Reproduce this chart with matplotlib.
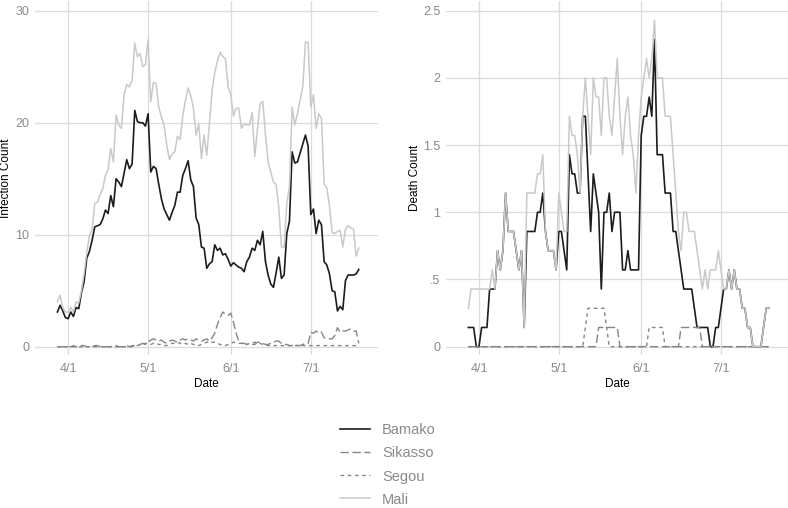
import matplotlib
matplotlib.use("Agg")
import matplotlib.pyplot as plt
import numpy as np
import pandas as pd

plt.rcParams['font.family'] = ['Liberation Sans', 'DejaVu Sans']

# ---------------- data ----------------
dates = pd.date_range("2020-03-28", "2020-07-19", freq="D")

bamako_inf = [3.1, 3.7, 3.2, 2.6, 2.5, 3.1, 2.7, 3.5, 3.4, 4.8,
              5.8, 7.9, 8.5, 9.5, 10.7, 10.8, 10.9, 11.4, 12.2, 11.9,
              13.5, 12.5, 15.0, 14.7, 14.3, 15.5, 16.7, 15.9, 16.3, 21.1,
              20.1, 20.0, 20.0, 19.7, 20.8, 15.6, 16.1, 15.9, 14.5, 13.2,
              12.3, 11.8, 11.3, 12.0, 12.6, 13.8, 13.8, 15.3, 15.9, 16.6,
              14.9, 14.3, 11.5, 10.9, 8.9, 8.8, 7.0, 7.4, 7.6, 9.1,
              8.6, 8.8, 8.2, 8.3, 7.8, 7.2, 7.5, 7.3, 7.1, 7.0,
              6.7, 7.6, 8.0, 8.8, 8.6, 9.5, 9.1, 10.3, 7.6, 6.4,
              5.6, 5.3, 6.6, 8.0, 6.1, 6.4, 10.1, 11.2, 17.4, 16.4,
              16.5, 17.3, 18.1, 18.9, 17.9, 11.8, 12.3, 10.1, 11.3, 10.9,
              7.6, 7.3, 6.5, 5.0, 4.9, 3.2, 3.6, 3.3, 5.9, 6.4,
              6.4, 6.4, 6.5, 6.9]

mali_inf = [4.0, 4.6, 3.5, 3.1, 3.1, 3.5, 3.1, 4.0, 3.9, 5.0,
            6.5, 8.4, 9.9, 10.5, 12.8, 12.9, 13.6, 14.1, 15.3, 15.8,
            17.7, 16.5, 20.7, 19.8, 19.5, 22.5, 23.4, 23.2, 23.8, 27.1,
            25.9, 26.2, 25.0, 25.2, 27.4, 21.9, 23.6, 23.5, 21.4, 20.5,
            19.8, 18.0, 16.7, 17.2, 17.4, 18.8, 18.5, 20.6, 22.0, 23.1,
            22.4, 21.3, 18.9, 19.9, 16.8, 18.9, 17.1, 19.9, 22.9, 24.5,
            25.5, 26.3, 25.9, 25.7, 23.2, 22.5, 20.6, 21.3, 21.3, 19.5,
            19.9, 19.8, 19.8, 20.9, 17.0, 19.4, 21.7, 21.9, 19.0, 16.5,
            15.6, 14.7, 14.5, 12.4, 8.9, 8.9, 12.8, 14.3, 21.4, 19.8,
            20.8, 22.0, 23.2, 27.2, 27.2, 21.4, 22.5, 19.5, 20.8, 20.4,
            14.5, 14.2, 12.6, 10.2, 10.1, 10.3, 10.4, 8.9, 10.5, 10.8,
            10.6, 10.5, 8.1, 8.8]

sikasso_inf = [0, 0, 0, 0, 0, 0, 0.1, 0, 0, 0.1,
               0.1, 0, 0, 0, 0.1, 0.1, 0, 0, 0, 0,
               0, 0.1, 0.1, 0, 0, 0, 0.1, 0, 0.1, 0.1,
               0.1, 0.2, 0.3, 0.2, 0.4, 0.6, 0.7, 0.6, 0.5, 0.6,
               0.4, 0.3, 0.5, 0.6, 0.5, 0.4, 0.6, 0.7, 0.6, 0.7,
               0.6, 0.5, 0.7, 0.6, 0.5, 0.6, 0.7, 0.5, 0.8, 1.2,
               2.0, 2.6, 3.1, 2.9, 2.8, 3.0, 2.2, 1.2, 0.5, 0.3,
               0.3, 0.2, 0.3, 0.2, 0.2, 0.4, 0.4, 0.3, 0.2, 0.2,
               0.3, 0.4, 0.5, 0.5, 0.3, 0.2, 0.2, 0.1, 0.1, 0.2,
               0.1, 0.1, 0.2, 0.3, 0.3, 1.3, 1.2, 1.4, 1.2, 1.3,
               0.8, 0.7, 0.7, 0.7, 1.0, 1.7, 1.3, 1.4, 1.4, 1.5,
               1.6, 1.4, 1.4, 0.3]

segou_inf = [0, 0, 0, 0, 0, 0, 0, 0, 0, 0,
             0, 0, 0, 0, 0, 0, 0, 0, 0, 0,
             0, 0, 0, 0, 0, 0, 0, 0, 0, 0.1,
             0.1, 0.2, 0.2, 0.3, 0.3, 0.2, 0.3, 0.3, 0.2, 0.2,
             0.1, 0.1, 0.2, 0.3, 0.3, 0.4, 0.3, 0.2, 0.3, 0.2,
             0.3, 0.2, 0.2, 0.1, 0.2, 0.3, 0.4, 0.5, 0.4, 0.4,
             0.3, 0.2, 0.1, 0.1, 0.2, 0.3, 0.4, 0.4, 0.3, 0.3,
             0.2, 0.2, 0.3, 0.3, 0.4, 0.4, 0.3, 0.2, 0.2, 0.1,
             0.1, 0.1, 0.1, 0.1, 0.1, 0.1, 0.1, 0.1, 0.1, 0.1,
             0.1, 0.2, 0.1, 0.1, 0.1, 0.1, 0.1, 0.1, 0.1, 0.1,
             0.1, 0.1, 0.1, 0.1, 0.1, 0.1, 0.1, 0.1, 0.1, 0.1,
             0.1, 0.1, 0.1, 0.1]

# deaths: 7-day averages, given in sevenths
bamako_death_7 = [1, 1, 1, 0, 0, 1, 1, 1, 3, 3,
                  3, 5, 4, 5, 8, 6, 6, 6, 5, 4,
                  5, 1, 6, 6, 6, 6, 7, 7, 8, 6,
                  5, 5, 5, 4, 6, 6, 5, 4, 10, 9,
                  9, 8, 8, 12, 12, 9, 6, 9, 8, 7,
                  3, 7, 7, 8, 6, 7, 7, 7, 4, 4,
                  5, 4, 4, 4, 4, 11, 12, 12, 13, 12,
                  16, 10, 10, 10, 8, 8, 8, 6, 6, 5,
                  4, 3, 3, 3, 3, 2, 1, 1, 1, 1,
                  1, 0, 0, 1, 1, 2, 3, 3, 4, 3,
                  4, 3, 3, 2, 2, 1, 1, 0, 0, 0,
                  0, 1, 2, 2]

mali_death_7 = [2, 3, 3, 3, 3, 3, 3, 3, 3, 4,
                3, 5, 4, 5, 8, 6, 6, 6, 5, 4,
                5, 1, 8, 8, 8, 8, 9, 9, 10, 6,
                5, 5, 5, 4, 8, 7, 6, 6, 12, 11,
                11, 10, 8, 12, 14, 12, 10, 14, 13, 13,
                11, 14, 14, 12, 11, 13, 15, 12, 10, 12,
                13, 11, 10, 8, 11, 13, 14, 15, 14, 15,
                17, 14, 14, 14, 12, 12, 12, 10, 8, 6,
                5, 7, 7, 6, 6, 6, 5, 4, 3, 4,
                3, 4, 4, 4, 5, 4, 3, 3, 4, 3,
                4, 3, 3, 2, 2, 1, 1, 0, 0, 0,
                0, 1, 2, 2]

sikasso_death_7 = [0] * 49 + [1] * 8 + [0] * 23 + [1] * 8 + [0] * 26
segou_death_7 = [0] * 44 + [1] + [2] * 7 + [1] + [0] * 15 + [1] * 6 + [0] * 40

regions = ["Bamako", "Sikasso", "Segou", "Mali"]
colors = {"Bamako": "#1c1c1c", "Sikasso": "#858585", "Segou": "#858585", "Mali": "#c9c9c9"}
styles = {"Bamako": "-", "Sikasso": (0, (6, 2.6)), "Segou": (0, (2.6, 2.6)), "Mali": "-"}
widths = {"Bamako": 1.2, "Sikasso": 1.0, "Segou": 1.0, "Mali": 1.1}

infections = {"Bamako": bamako_inf, "Sikasso": sikasso_inf, "Segou": segou_inf, "Mali": mali_inf}
deaths = {"Bamako": np.array(bamako_death_7) / 7, "Sikasso": np.array(sikasso_death_7) / 7,
          "Segou": np.array(segou_death_7) / 7, "Mali": np.array(mali_death_7) / 7}

# ---------------- figure ----------------
W, H = 788, 508
fig = plt.figure(figsize=(W / 100, H / 100), dpi=100)

def px_axes(x0, x1, y0, y1):
    return fig.add_axes([x0 / W, 1 - y1 / H, (x1 - x0) / W, (y1 - y0) / H])

ax1 = px_axes(35, 378, 1, 355)
ax2 = px_axes(446, 788, 1, 355)

tick_col = "#8a8a8a"
grid_col = "#dcdcdc"
xmin = pd.Timestamp("2020-03-28") - pd.Timedelta(days=8.4)
xmax = pd.Timestamp("2020-03-28") + pd.Timedelta(days=120.2)

panels = [
    (ax1, infections, (-0.74, 30.87), [0, 10, 20, 30], ["0", "10", "20", "30"],
     "Infection Count", 35, 343, 12),
    (ax2, deaths, (-0.062, 2.572), [0, 0.5, 1, 1.5, 2, 2.5], ["0", ".5", "1", "1.5", "2", "2.5"],
     "Death Count", 446, 342, 421),
]
for ax, data, ylim, yticks, ylabels, ylab, x0, w, labx in panels:
    for r in regions:
        ax.plot(dates, data[r], color=colors[r], linestyle=styles[r], lw=widths[r], label=r)
    ax.set_xlim(xmin, xmax)
    ax.set_ylim(*ylim)
    ax.set_yticks(yticks)
    ax.set_yticklabels(ylabels)
    ticks = pd.to_datetime(["2020-04-01", "2020-05-01", "2020-06-01", "2020-07-01"])
    ax.set_xticks(ticks)
    ax.set_xticklabels([f"{d.month}/{d.day}" for d in ticks])
    ax.grid(True, color=grid_col, lw=0.9)
    ax.set_axisbelow(True)
    for s in ax.spines.values():
        s.set_visible(False)
    ax.tick_params(axis="y", length=0, colors=tick_col, labelsize=9, pad=4)
    ax.tick_params(axis="x", length=0, colors=tick_col, labelsize=9, pad=6)
    ax.set_xlabel("Date", fontsize=8.5, color="black", labelpad=2)
    ax.set_ylabel(ylab, fontsize=8.5, color="black")
    ax.yaxis.set_label_coords((labx - x0) / w, 0.5)

handles, labels = ax1.get_legend_handles_labels()
leg = fig.legend(handles, labels, loc="center", bbox_to_anchor=(388 / W, 1 - 465 / H),
                 frameon=False, fontsize=10.5, handlelength=2.0, handletextpad=0.85,
                 labelspacing=0.62)
for t in leg.get_texts():
    t.set_color("#8a8a8a")

fig.savefig("out.png", dpi=100)
